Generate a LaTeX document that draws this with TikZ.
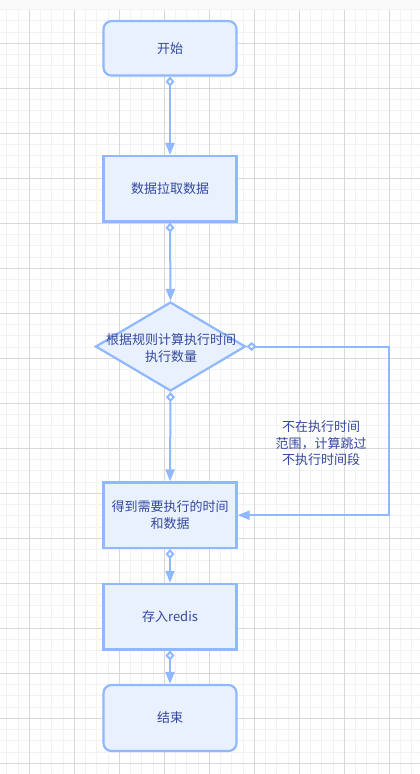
\documentclass[tikz,border=0pt]{standalone}
\usepackage{fontspec}
\setmainfont{Noto Sans CJK SC}
\usetikzlibrary{arrows.meta,shapes.geometric}
\definecolor{edgeblue}{RGB}{143,184,255}
\definecolor{fillblue}{RGB}{233,241,255}
\definecolor{txtblue}{RGB}{52,72,158}
\definecolor{gridminor}{RGB}{242,242,242}
\definecolor{gridmajor}{RGB}{216,216,216}
\tikzset{
  base/.style={draw=edgeblue, fill=fillblue, line width=2.2pt, text=txtblue,
    font=\fontsize{13pt}{16.7pt}\selectfont, align=center, inner sep=0pt},
  startend/.style={base, rectangle, rounded corners=8pt, minimum width=133pt},
  procbox/.style={base, rectangle, minimum width=133pt, minimum height=65.5pt},
  decision/.style={base, diamond, minimum width=150pt, minimum height=89pt},
  txt/.style={text=txtblue, font=\fontsize{13pt}{16.7pt}\selectfont, align=center, inner sep=0pt},
  conn/.style={draw=edgeblue, line width=2pt,
    {Diamond[fill=white, length=10pt, width=9pt]}-{Triangle[length=12pt, width=9pt]}}
}
\begin{document}
\begin{tikzpicture}[x=1pt,y=-1pt]
\useasboundingbox (0,0) rectangle (420,774);
\fill[white] (0,0) rectangle (420,774);
\fill[black!2] (0,0) rectangle (420,10);
% minor grid
\foreach \i in {0,...,37} {
  \draw[gridminor, line width=1pt] ({6.8+11.25*\i},10) -- ({6.8+11.25*\i},774);
}
\foreach \j in {0,...,68} {
  \draw[gridminor, line width=1pt] (0,{9.55+11.25*\j}) -- (420,{9.55+11.25*\j});
}
% major grid
\foreach \i in {0,...,8} {
  \draw[gridmajor, line width=1pt] ({29.3+45*\i},10) -- ({29.3+45*\i},774);
}
\foreach \j in {0,...,16} {
  \draw[gridmajor, line width=1pt] (0,{43.3+45*\j}) -- (420,{43.3+45*\j});
}
% nodes
\node[startend, minimum height=54.5pt] (start) at (170,48.3) {开始};
\node[procbox] (fetch) at (170,188.8) {数据拉取数据};
\node[decision] (dec) at (170.5,346.5) {};
\node[txt] (dectext) at (171,348.3) {根据规则计算执行时间\\执行数量};
\node[procbox] (get) at (170,515.2) {得到需要执行的时间\\和数据};
\node[procbox] (redis) at (170,616.7) {存入redis};
\node[startend, minimum height=66pt] (end) at (170,718) {结束};
\node[txt] (skip) at (321,443.3) {不在执行时间\\范围，计算跳过\\不执行时间段};
\coordinate (bend) at (389,346.5);
% connectors
\draw[conn] (start.south) -- (fetch.north);
\draw[conn] (fetch.south) -- (dec.north);
\draw[conn] (dec.south) -- (get.north);
\draw[conn] (dec.east) -- (bend) |- (get.east);
\draw[conn] (get.south) -- (redis.north);
\draw[conn] (redis.south) -- (end.north);
\end{tikzpicture}
\end{document}
